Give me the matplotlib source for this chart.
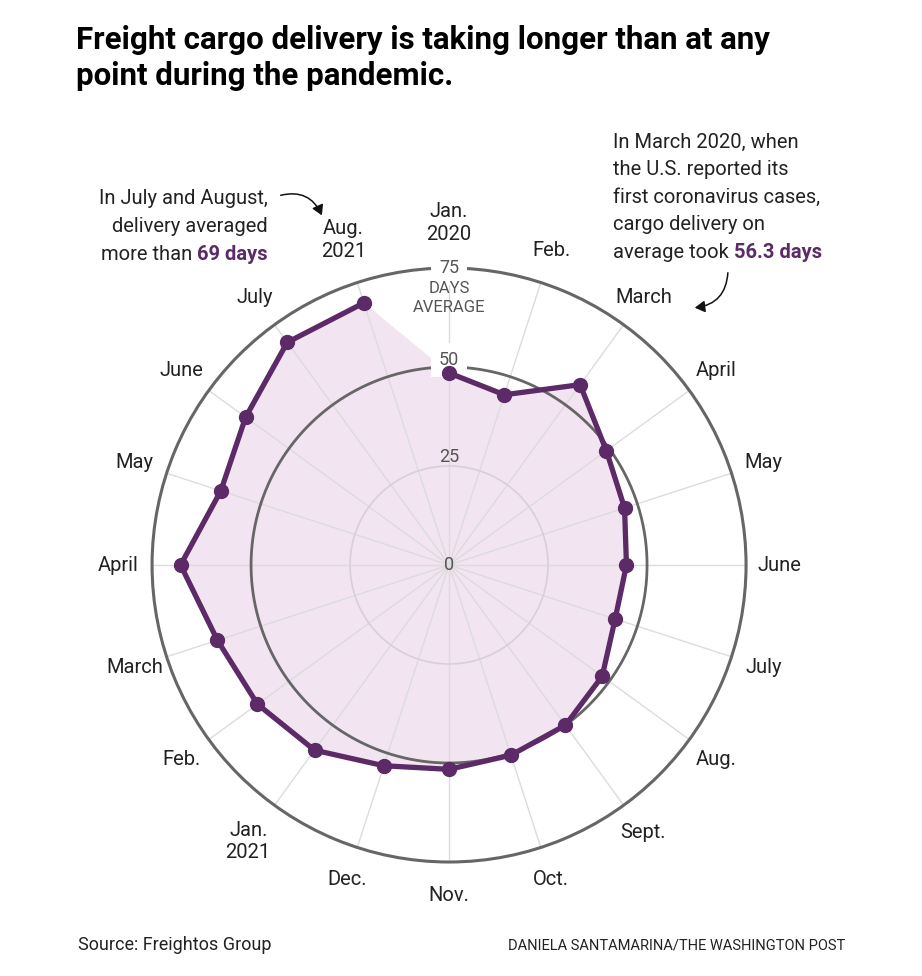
import matplotlib.pyplot as plt
from matplotlib.patches import FancyArrowPatch
import numpy as np

plt.rcParams['font.family'] = ['Roboto', 'DejaVu Sans']

# monthly average freight delivery time (days), Jan 2020 .. Aug 2021
months = ['Jan.\n2020', 'Feb.', 'March', 'April', 'May', 'June', 'July', 'Aug.',
          'Sept.', 'Oct.', 'Nov.', 'Dec.', 'Jan.\n2021', 'Feb.', 'March', 'April',
          'May', 'June', 'July', 'Aug.\n2021']
days = [48.5, 45.2, 56.3, 49.1, 46.6, 44.8, 44.1, 47.8, 50.0, 50.5,
        51.6, 53.3, 57.8, 59.8, 61.5, 67.8, 60.6, 63.5, 69.5, 69.6]
ring_ticks = [0, 25, 50, 75]

purple = '#5c2a66'
fill_col = '#f2e4f0'
ring_col = '#666666'
spoke_col = '#dcdcdc'
text_col = '#222222'
tick_col = '#555555'

fig = plt.figure(figsize=(9.22, 9.76), dpi=100)
ax = fig.add_axes([0.1649, 0.1168, 0.6443, 0.6086], projection='polar')
ax.set_theta_zero_location('N')
ax.set_theta_direction(-1)
ax.set_ylim(0, 75)
ax.grid(False)
ax.set_xticks([])
ax.set_yticks([])
ax.spines['polar'].set_color(ring_col)
ax.spines['polar'].set_linewidth(2.2)
ax.spines['polar'].set_zorder(1)

theta = np.arange(len(days)) * 2 * np.pi / len(days)

# fill first, then the grid on top of it
ax.fill(theta, days, color=fill_col, zorder=0.5, lw=0)

for t in theta:
    ax.plot([t, t], [0, 75], color=spoke_col, lw=1.0, zorder=1)

circ = np.linspace(0, 2 * np.pi, 400)
ax.plot(circ, np.full_like(circ, 25), color='#d8d0d8', lw=1.2, zorder=1)
ax.plot(circ, np.full_like(circ, 50), color=ring_col, lw=2.0, zorder=1)

ax.plot(theta, days, color=purple, lw=3.8, marker='o', ms=10,
        solid_joinstyle='round', zorder=3)

# ring labels (white box cuts a gap in the 50 and 75 rings)
label_r = {0: 0, 25: 27.3, 50: 51.8, 75: 75}
for v in ring_ticks:
    kw = {}
    if v >= 50:
        kw['bbox'] = dict(boxstyle='square,pad=0.45', fc='white', ec='none')
    ax.text(0, label_r[v], str(v), ha='center', va='center', fontsize=13,
            color=tick_col, zorder=2.5, **kw)
ax.text(0, 67.4, 'DAYS\nAVERAGE', ha='center', va='center', fontsize=12,
        color=tick_col, linespacing=1.3, zorder=2.5)

# month labels around the outside
for t, lab in zip(theta, months):
    r = 86.3 if '\n' in lab else 83.5
    ax.text(t, r, lab, ha='center', va='center', fontsize=14.5, color=text_col,
            linespacing=1.25)

# title
fig.text(76 / 922, 1 - 40 / 976, 'Freight cargo delivery is taking longer than at any',
         fontsize=22.5, fontweight='bold', color='black', va='center', ha='left')
fig.text(76 / 922, 1 - 76 / 976, 'point during the pandemic.',
         fontsize=22.5, fontweight='bold', color='black', va='center', ha='left')

# left annotation
fs = 14.5
fig.text(268 / 922, 1 - 199 / 976, 'In July and August,', ha='right', va='center',
         fontsize=fs, color=text_col)
fig.text(268 / 922, 1 - 226 / 976, 'delivery averaged', ha='right', va='center',
         fontsize=fs, color=text_col)
b1 = fig.text(268 / 922, 1 - 254 / 976, '69 days', ha='right', va='center',
              fontsize=fs, color=purple, fontweight='bold')
fig.add_artist(plt.Annotation('more than ', xy=(0, 0), xycoords=b1, ha='right',
                              va='bottom', fontsize=fs, color=text_col))

# right annotation
right_lines = ['In March 2020, when', 'the U.S. reported its', 'first coronavirus cases,',
               'cargo delivery on']
for i, line in enumerate(right_lines):
    fig.text(613 / 922, 1 - (142 + 27.5 * i) / 976, line, ha='left', va='center',
             fontsize=fs, color=text_col)
n1 = fig.text(613 / 922, 1 - 252 / 976, 'average took ', ha='left', va='center',
              fontsize=fs, color=text_col)
fig.add_artist(plt.Annotation('56.3 days', xy=(1, 0), xycoords=n1, ha='left',
                              va='bottom', fontsize=fs, color=purple, fontweight='bold'))

# arrows
fig.add_artist(FancyArrowPatch(
    (278 / 922, 1 - 196 / 976), (323 / 922, 1 - 218 / 976), transform=fig.transFigure,
    arrowstyle='-|>,head_length=6,head_width=3.5', connectionstyle='arc3,rad=-0.45',
    color='#111111', lw=1.1))
fig.add_artist(FancyArrowPatch(
    (728 / 922, 1 - 270 / 976), (692 / 922, 1 - 308 / 976), transform=fig.transFigure,
    arrowstyle='-|>,head_length=6,head_width=3.5', connectionstyle='arc3,rad=-0.45',
    color='#111111', lw=1.1))

# footer
fig.text(78 / 922, 1 - 945 / 976, 'Source: Freightos Group', ha='left', va='center',
         fontsize=13, color=text_col)
fig.text(845 / 922, 1 - 945 / 976, 'DANIELA SANTAMARINA/THE WASHINGTON POST', ha='right',
         va='center', fontsize=10.5, color=text_col)

fig.savefig('out.png', dpi=100, facecolor='white')
